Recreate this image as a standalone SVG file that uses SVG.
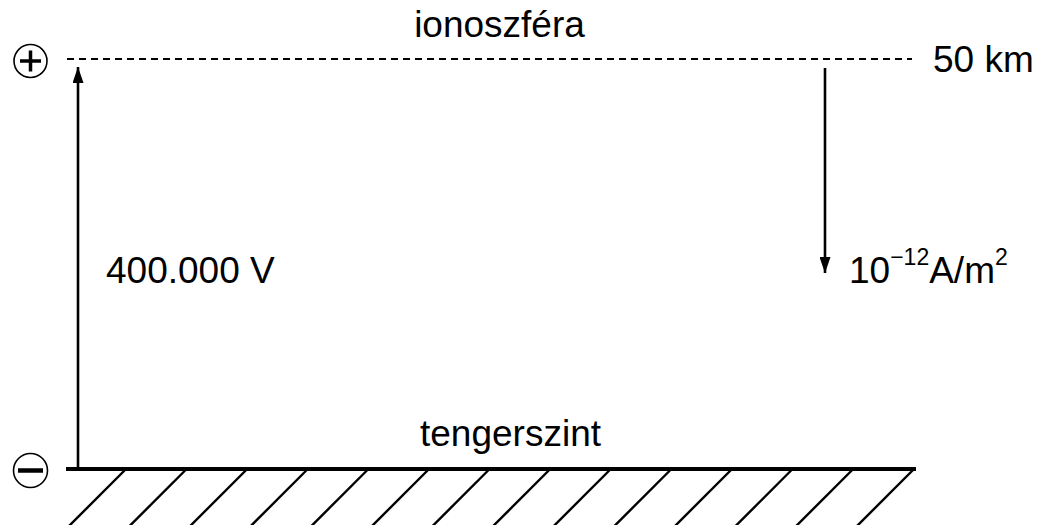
<svg xmlns="http://www.w3.org/2000/svg" width="1041" height="525" viewBox="0 0 1041 525">
<style>
text{font-family:"Liberation Sans",Arial,sans-serif;font-size:37px;fill:#000}
.sup{font-size:23px}
.ln{stroke:#000;stroke-width:2.6;fill:none}
.h{stroke:#000;stroke-width:2.4}
</style>
<defs>
<marker id="ah" markerWidth="16" markerHeight="11" refX="16" refY="5.5" orient="auto" markerUnits="userSpaceOnUse" viewBox="0 0 16 11">
<path d="M0,0 L16,5.5 L0,11 Z" fill="#000"/>
</marker>
</defs>
<rect width="1041" height="525" fill="#fff"/>
<g id="ionosphere">
<line x1="67" y1="59" x2="912" y2="59" stroke="#000" stroke-width="2" stroke-dasharray="7,5"/>
<text x="499.5" y="37" text-anchor="middle">ionoszféra</text>
<text x="933" y="72">50 km</text>
</g>
<g id="plus">
<circle cx="30.5" cy="61" r="16.5" fill="none" stroke="#000" stroke-width="1.6"/>
<line x1="20" y1="61" x2="41" y2="61" stroke="#000" stroke-width="3.5"/>
<line x1="30.5" y1="50.5" x2="30.5" y2="71.5" stroke="#000" stroke-width="3.5"/>
</g>
<g id="minus">
<circle cx="30.5" cy="470.5" r="17" fill="none" stroke="#000" stroke-width="1.6"/>
<line x1="18" y1="470.5" x2="43" y2="470.5" stroke="#000" stroke-width="4.5"/>
</g>
<g id="ground">
<line x1="66" y1="469" x2="916" y2="469" stroke="#000" stroke-width="4"/>
<g class="h">
<line x1="125" y1="470" x2="68" y2="527"/>
<line x1="185.6" y1="470" x2="128.6" y2="527"/>
<line x1="246.2" y1="470" x2="189.2" y2="527"/>
<line x1="306.8" y1="470" x2="249.8" y2="527"/>
<line x1="367.4" y1="470" x2="310.4" y2="527"/>
<line x1="428" y1="470" x2="371" y2="527"/>
<line x1="488.6" y1="470" x2="431.6" y2="527"/>
<line x1="549.2" y1="470" x2="492.2" y2="527"/>
<line x1="609.8" y1="470" x2="552.8" y2="527"/>
<line x1="670.4" y1="470" x2="613.4" y2="527"/>
<line x1="731" y1="470" x2="674" y2="527"/>
<line x1="791.6" y1="470" x2="734.6" y2="527"/>
<line x1="852.2" y1="470" x2="795.2" y2="527"/>
<line x1="913" y1="470" x2="856" y2="527"/>
</g>
<text x="510.5" y="446" text-anchor="middle">tengerszint</text>
</g>
<g id="connectors">
<line x1="78" y1="468" x2="78" y2="67" class="ln" marker-end="url(#ah)"/>
<line x1="825" y1="68" x2="825" y2="273" class="ln" marker-end="url(#ah)"/>
</g>
<g id="labels">
<text x="106" y="283">400.000 V</text>
<text x="849" y="283">10<tspan class="sup" dy="-18">−12</tspan><tspan dy="18">A/m</tspan><tspan class="sup" dy="-18">2</tspan></text>
</g>
</svg>
